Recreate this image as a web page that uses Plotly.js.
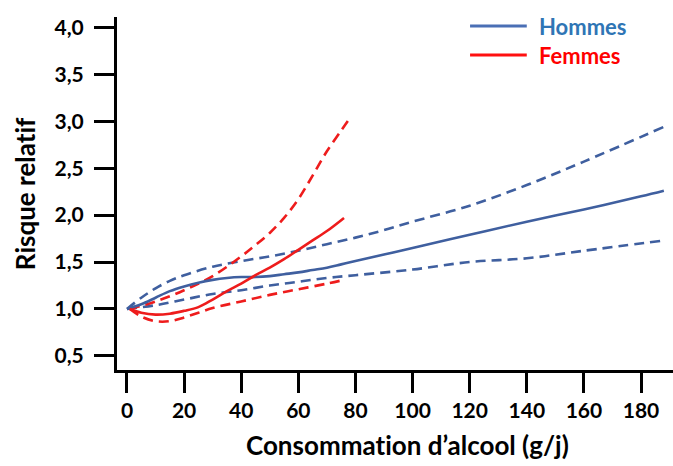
<!DOCTYPE html>
<html>
<head>
<meta charset="utf-8">
<script src="https://cdn.plot.ly/plotly-3.0.1.min.js"></script>
<style>html,body{margin:0;padding:0;background:#fff;}#chart{width:673px;height:466px;}
svg text{font-variant-ligatures:none;font-feature-settings:"liga" 0;}</style>
</head>
<body>
<div id="chart"></div>
<script>
// Hommes (men)
const hommesX = [0, 5, 10, 15, 20, 25, 30, 35, 40, 45, 50, 55, 60, 65, 70, 75, 80, 90, 100, 120, 140, 160, 180, 188];
const hommesRR = [1.0, 1.05, 1.12, 1.19, 1.24, 1.28, 1.31, 1.33, 1.34, 1.34, 1.35, 1.37, 1.39, 1.415, 1.44, 1.475, 1.51, 1.58, 1.65, 1.79, 1.93, 2.06, 2.20, 2.26];
const hommesUpX = [0, 5, 10, 15, 20, 30, 40, 50, 60, 70, 80, 90, 100, 120, 140, 160, 188];
const hommesUp = [1.0, 1.12, 1.22, 1.30, 1.36, 1.45, 1.51, 1.56, 1.62, 1.69, 1.76, 1.84, 1.93, 2.10, 2.32, 2.57, 2.94];
const hommesLoX = [0, 10, 20, 30, 40, 50, 60, 70, 80, 100, 120, 140, 160, 188];
const hommesLo = [1.0, 1.04, 1.10, 1.16, 1.20, 1.25, 1.29, 1.33, 1.36, 1.42, 1.50, 1.54, 1.62, 1.73];
// Femmes (women)
const femmesX = [1, 5, 10, 15, 20, 25, 30, 35, 40, 45, 50, 55, 60, 65, 70, 76];
const femmesRR = [1.0, 0.96, 0.94, 0.95, 0.98, 1.02, 1.10, 1.19, 1.27, 1.36, 1.44, 1.53, 1.63, 1.73, 1.83, 1.97];
const femmesUpX = [1, 10, 20, 30, 40, 45, 50, 55, 60, 65, 70, 75, 78];
const femmesUp = [1.0, 1.08, 1.20, 1.35, 1.56, 1.68, 1.81, 1.97, 2.17, 2.42, 2.68, 2.90, 3.03];
const femmesLoX = [1, 5, 10, 15, 20, 25, 30, 40, 50, 60, 70, 76];
const femmesLo = [1.0, 0.92, 0.87, 0.87, 0.91, 0.96, 1.01, 1.08, 1.15, 1.21, 1.27, 1.31];

const xTicks = [0, 20, 40, 60, 80, 100, 120, 140, 160, 180];
const yTicks = [0.5, 1.0, 1.5, 2.0, 2.5, 3.0, 3.5, 4.0];

const BLUE = '#3f5f9f';
const RED = '#ee1c1c';
const FONT = 'Lato, "Open Sans", sans-serif';

function tr(x, y, color, dash) {
  return {x: x, y: y, type: 'scatter', mode: 'lines', showlegend: false, hoverinfo: 'skip',
    line: {color: color, width: 2.6, dash: dash ? '10px,6px' : 'solid', shape: 'spline', smoothing: 1}};
}

const data = [
  tr(hommesUpX, hommesUp, BLUE, true),
  tr(hommesLoX, hommesLo, BLUE, true),
  tr(femmesUpX, femmesUp, RED, true),
  tr(femmesLoX, femmesLo, RED, true),
  tr(hommesX, hommesRR, BLUE, false),
  tr(femmesX, femmesRR, RED, false)
];

const layout = {
  width: 673, height: 466,
  margin: {l: 117, r: 0, t: 17, b: 96},
  paper_bgcolor: '#fff', plot_bgcolor: '#fff',
  separators: ',.',
  font: {family: FONT, color: '#000'},
  xaxis: {
    range: [-3.5, 191.2], showgrid: false, zeroline: false,
    showline: true, linewidth: 3, linecolor: '#000', mirror: false,
    ticks: 'outside', ticklen: 20, tickwidth: 3, tickcolor: '#000',
    tickvals: xTicks, ticktext: xTicks.map(String),
    tickfont: {family: FONT, size: 21, weight: 'bold', color: '#000'},
    ticklabelstandoff: 0
  },
  yaxis: {
    range: [0.35, 4.11], showgrid: false, zeroline: false,
    showline: true, linewidth: 3, linecolor: '#000',
    ticks: 'outside', ticklen: 20, tickwidth: 3, tickcolor: '#000',
    tickvals: yTicks, tickformat: '.1f',
    tickfont: {family: FONT, size: 21, weight: 'bold', color: '#000'},
    ticklabelstandoff: 6
  },
  shapes: [
    {type: 'line', xref: 'paper', yref: 'paper', x0: 0.635, x1: 0.737, y0: 0.9745, y1: 0.9745, line: {color: '#4a6fb5', width: 3}},
    {type: 'line', xref: 'paper', yref: 'paper', x0: 0.635, x1: 0.737, y0: 0.892, y1: 0.892, line: {color: '#ff1010', width: 3}}
  ],
  annotations: [
    {text: 'Hommes', xref: 'paper', yref: 'paper', x: 0.755, y: 0.9745, xanchor: 'left', yanchor: 'middle', showarrow: false,
      font: {family: FONT, size: 22, weight: 'bold', color: '#2f75b5'}},
    {text: 'Femmes', xref: 'paper', yref: 'paper', x: 0.755, y: 0.892, xanchor: 'left', yanchor: 'middle', showarrow: false,
      font: {family: FONT, size: 22, weight: 'bold', color: '#ff0000'}},
    {text: 'Risque relatif', xref: 'paper', yref: 'paper', x: -0.1655, y: 0.501, xanchor: 'center', yanchor: 'middle', textangle: -90, showarrow: false,
      font: {family: FONT, size: 26, weight: 'bold', color: '#000'}},
    {text: 'Consommation d\u2019alcool (g/j)', xref: 'paper', yref: 'paper', x: 0.523, y: -0.212, xanchor: 'center', yanchor: 'middle', showarrow: false,
      font: {family: FONT, size: 26, weight: 'bold', color: '#000'}}
  ]
};

Plotly.newPlot('chart', data, layout, {displayModeBar: false, staticPlot: true});
</script>
</body>
</html>
